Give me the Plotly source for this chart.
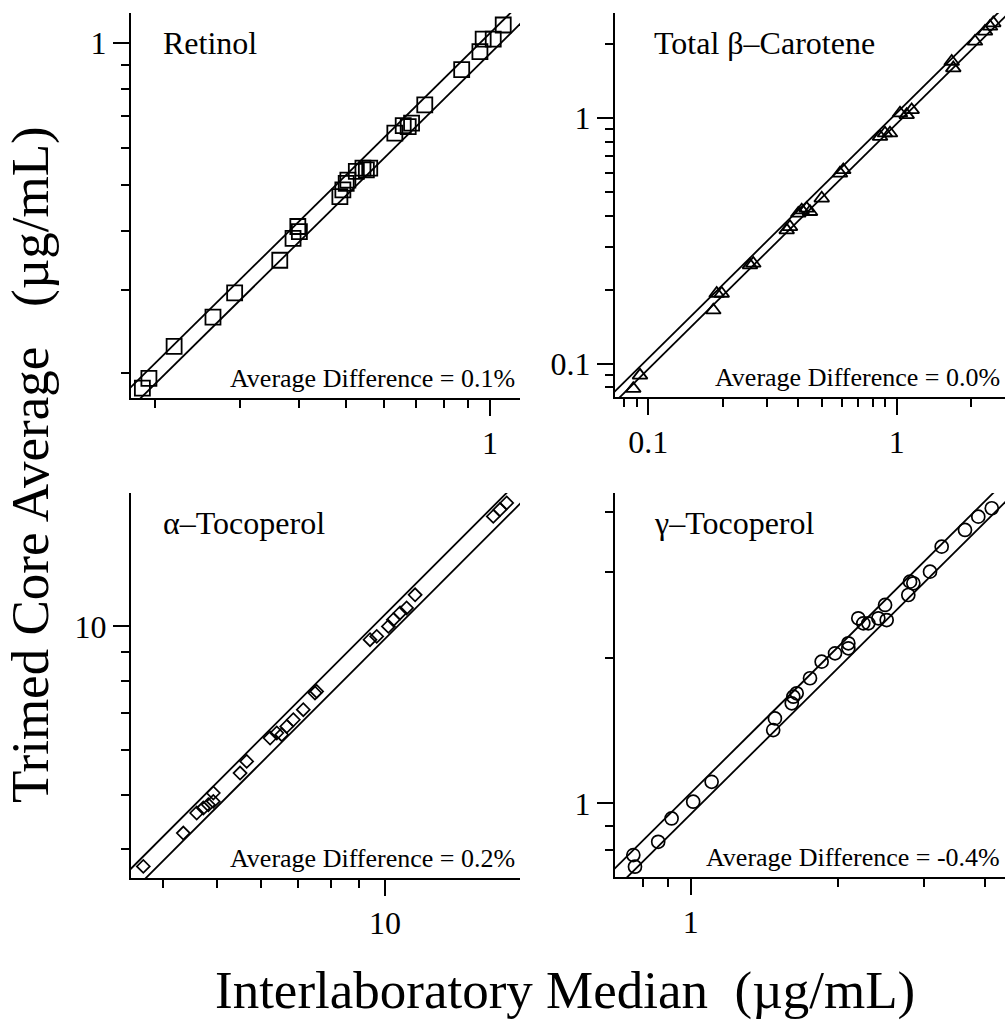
import plotly.graph_objects as go

# ---------------- data ----------------
RET_X = [0.188, 0.194, 0.219, 0.264, 0.293, 0.364, 0.388, 0.397, 0.400, 0.486, 0.493, 0.501, 0.505, 0.526,
         0.543, 0.552, 0.561, 0.633, 0.659, 0.675, 0.686, 0.731, 0.873, 0.953, 0.968, 1.016, 1.066]
RET_Y = [0.186, 0.195, 0.228, 0.263, 0.296, 0.347, 0.386, 0.409, 0.399, 0.473, 0.489, 0.505, 0.513, 0.535,
         0.544, 0.539, 0.544, 0.645, 0.669, 0.666, 0.677, 0.740, 0.879, 0.960, 1.020, 1.020, 1.093]

BC_X = [0.0870, 0.0926, 0.1827, 0.1885, 0.1975, 0.2567, 0.2647, 0.3607, 0.3718, 0.4017, 0.4146, 0.4342,
        0.4477, 0.4991, 0.591, 0.6095, 0.8566, 0.8971, 0.9397, 1.031, 1.097, 1.149, 1.665, 1.690, 2.066,
        2.267, 2.375, 2.448]
BC_Y = [0.0791, 0.0896, 0.1651, 0.1931, 0.1931, 0.2519, 0.2560, 0.350, 0.361, 0.4095, 0.4222, 0.4292,
        0.4157, 0.4716, 0.5964, 0.6152, 0.8412, 0.8685, 0.8685, 1.048, 1.032, 1.081, 1.702, 1.600, 2.054,
        2.257, 2.365, 2.442]

AT_X = [3.695, 4.357, 4.604, 4.731, 4.830, 4.930, 4.930, 5.504, 5.657, 6.229, 6.403, 6.535, 6.672, 6.855,
        7.142, 7.494, 7.547, 9.401, 9.665, 10.14, 10.35, 10.64, 10.93, 11.32, 15.62, 16.06, 16.51]
AT_Y = [3.722, 4.270, 4.637, 4.733, 4.797, 5.035, 4.864, 5.467, 5.735, 6.316, 6.447, 6.402, 6.624, 6.809,
        7.096, 7.601, 7.651, 9.467, 9.597, 10.00, 10.28, 10.57, 10.79, 11.39, 15.73, 16.18, 16.63]

GT_X = [0.763, 0.769, 0.858, 0.914, 1.012, 1.104, 1.476, 1.488, 1.611, 1.623, 1.649, 1.756, 1.855, 1.976,
        2.104, 2.104, 2.205, 2.258, 2.312, 2.424, 2.502, 2.521, 2.792, 2.815, 2.859, 3.093, 3.268, 3.648,
        3.884, 4.139]
GT_Y = [0.782, 0.740, 0.833, 0.931, 1.008, 1.108, 1.417, 1.498, 1.609, 1.661, 1.688, 1.813, 1.962, 2.041,
        2.090, 2.141, 2.411, 2.354, 2.354, 2.411, 2.569, 2.391, 2.694, 2.870, 2.848, 3.010, 3.390, 3.670,
        3.910, 4.069]

PANEL_TITLES = ["Retinol", "Total β–Carotene", "α–Tocoperol", "γ–Tocoperol"]
AVG_DIFF = ["0.1%", "0.0%", "0.2%", "-0.4%"]
LINE_FACTORS = [1.05, 0.95]

# tick values (major labelled, minor unlabelled)
RET_MAJOR = [1]
RET_MINOR = [0.2, 0.3, 0.4, 0.5, 0.6, 0.7, 0.8, 0.9]
BC_MAJOR = [0.1, 1]
BC_MINOR = [0.08, 0.09, 0.2, 0.3, 0.4, 0.5, 0.6, 0.7, 0.8, 0.9, 2]
AT_MAJOR = [10]
AT_MINOR = [4, 5, 6, 7, 8, 9]
GT_MAJOR = [1]
GT_MINOR = [0.8, 0.9, 2, 3, 4]
TICK_TEXT = {0.1: "0.1", 1: "1", 10: "10"}

X_TITLE = "Interlaboratory Median\u00a0\u00a0(µg/mL)"
Y_TITLE = "Trimed Core Average\u00a0\u00a0\u00a0(µg/mL)"

# ---------------- layout geometry ----------------
W, H = 1005, 1023
FONT = "Liberation Serif"

panels = [
    dict(x=RET_X, y=RET_Y, sym="square-open", size=15, lw=1.8,
         xr=[-0.7496, 0.0628], yr=[-0.7515, 0.064], major=RET_MAJOR, minor=RET_MINOR,
         px=(131, 520), py=(13, 398)),
    dict(x=BC_X, y=BC_Y, sym="triangle-up-open", size=13, lw=1.8,
         xr=[-1.134, 0.436], yr=[-1.136, 0.4286], major=BC_MAJOR, minor=BC_MINOR,
         px=(615, 1005), py=(13, 397)),
    dict(x=AT_X, y=AT_Y, sym="diamond-open", size=10, lw=1.7,
         xr=[0.5456, 1.2415], yr=[0.55, 1.2386], major=AT_MAJOR, minor=AT_MINOR,
         px=(131, 520), py=(493, 878)),
    dict(x=GT_X, y=GT_Y, sym="circle-open", size=13, lw=1.7,
         xr=[-0.155, 0.644], yr=[-0.152, 0.641], major=GT_MAJOR, minor=GT_MINOR,
         px=(615, 1005), py=(493, 877)),
]

fig = go.Figure()
layout = dict(width=W, height=H, margin=dict(l=0, r=0, t=0, b=0),
              paper_bgcolor="white", plot_bgcolor="white", showlegend=False,
              font=dict(family=FONT, color="black"))
annotations = []


def axis(domain, rng, major, minor, anchor):
    return dict(type="log", domain=domain, range=rng, anchor=anchor,
                showline=True, linecolor="black", linewidth=2, mirror=False,
                showgrid=False, zeroline=False,
                ticks="outside", ticklen=16, tickwidth=2, tickcolor="black",
                tickmode="array", tickvals=major, ticktext=[TICK_TEXT[v] for v in major],
                tickfont=dict(family=FONT, size=32, color="black"),
                minor=dict(tickmode="array", tickvals=minor, ticks="outside", ticklen=8,
                           tickwidth=2, tickcolor="black", showgrid=False))


for i, p in enumerate(panels):
    n = "" if i == 0 else str(i + 1)
    xa, ya = "x" + n, "y" + n
    xdom = [p["px"][0] / W, min(1.0, p["px"][1] / W)]
    ydom = [1 - p["py"][1] / H, 1 - p["py"][0] / H]
    layout["xaxis" + n] = axis(xdom, p["xr"], p["major"], p["minor"], ya)
    layout["yaxis" + n] = axis(ydom, p["yr"], p["major"], p["minor"], xa)

    # reference lines y = f * x spanning the whole panel
    x0 = 10 ** (p["xr"][0] - 0.3)
    x1 = 10 ** (p["xr"][1] + 0.3)
    for f in LINE_FACTORS:
        fig.add_trace(go.Scatter(x=[x0, x1], y=[f * x0, f * x1], mode="lines",
                                 line=dict(color="black", width=1.8),
                                 xaxis=xa, yaxis=ya, hoverinfo="skip"))
    fig.add_trace(go.Scatter(x=p["x"], y=p["y"], mode="markers",
                             marker=dict(symbol=p["sym"], size=p["size"], color="black",
                                         line=dict(color="black", width=p["lw"])),
                             xaxis=xa, yaxis=ya))

    pw = p["px"][1] - p["px"][0]
    ph = p["py"][1] - p["py"][0]
    annotations.append(dict(xref=xa + " domain", yref=ya + " domain",
                            x=(30 if i % 2 == 0 else 37) / pw, y=1 - 30 / ph,
                            text=PANEL_TITLES[i], showarrow=False,
                            xanchor="left", yanchor="middle",
                            font=dict(family=FONT, size=32, color="black")))
    annotations.append(dict(xref=xa + " domain", yref=ya + " domain",
                            x=1 - 3 / pw, y=20 / ph,
                            text="Average Difference = " + AVG_DIFF[i], showarrow=False,
                            xanchor="right", yanchor="middle",
                            font=dict(family=FONT, size=26, color="black")))

annotations.append(dict(xref="paper", yref="paper", x=565 / W, y=1 - 990 / H,
                        text=X_TITLE, showarrow=False, xanchor="center", yanchor="middle",
                        font=dict(family=FONT, size=53, color="black")))
annotations.append(dict(xref="paper", yref="paper", x=30 / W, y=1 - 465 / H,
                        text=Y_TITLE, showarrow=False, textangle=-90,
                        xanchor="center", yanchor="middle",
                        font=dict(family=FONT, size=53, color="black")))

layout["annotations"] = annotations
fig.update_layout(**layout)
fig.write_html("out.html", config={"displayModeBar": False},
               post_script="document.body.style.margin='0';document.body.style.overflow='hidden';")
